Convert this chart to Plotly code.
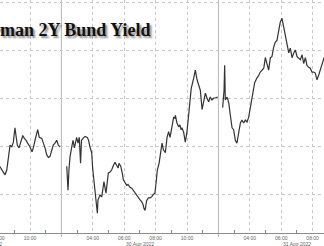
import plotly.graph_objects as go

# Session-hour axis: 0 = 29 Aug 2022 02:00, each trading day shows 02:00-12:00 (10 h)
day29_x = [5.83, 6.09, 6.20, 6.30, 6.41, 6.52, 6.62, 6.73, 6.83, 6.94, 7.04, 7.11, 7.19, 7.30,
           7.41, 7.54, 7.64, 7.75, 7.85, 8.00, 8.13, 8.21, 8.32, 8.43, 8.49, 8.59, 8.75, 8.85,
           8.96, 9.06, 9.17, 9.27, 9.38, 9.48, 9.59, 9.70, 9.80, 9.91]
day29_y = [1.085, 1.078, 1.075, 1.072, 1.070, 1.075, 1.089, 1.101, 1.099, 1.104, 1.119, 1.109,
           1.101, 1.098, 1.103, 1.111, 1.108, 1.106, 1.103, 1.099, 1.094, 1.098, 1.106, 1.114,
           1.117, 1.109, 1.108, 1.103, 1.098, 1.091, 1.088, 1.089, 1.096, 1.101, 1.103, 1.106,
           1.101, 1.099]

day30_x = [10.34, 10.39, 10.42, 10.48, 10.55, 10.66, 10.74, 10.83, 10.93, 10.97, 11.06, 11.14,
           11.22, 11.28, 11.38, 11.50, 11.65, 11.73, 11.82, 11.93, 11.99, 12.08, 12.14, 12.20,
           12.29, 12.33, 12.46, 12.57, 12.65, 12.71, 12.84, 12.90, 12.99, 13.10, 13.20, 13.29,
           13.41, 13.52, 13.61, 13.67, 13.78, 13.90, 13.94, 14.05, 14.16, 14.24, 14.37, 14.48,
           14.56, 14.69, 14.80, 14.90, 15.01, 15.11, 15.20, 15.26, 15.33, 15.43, 15.54, 15.64,
           15.75, 15.83, 15.96, 16.05, 16.11, 16.22, 16.28, 16.39, 16.41, 16.50, 16.62, 16.73,
           16.83, 16.92, 16.98, 17.04, 17.15, 17.22, 17.26, 17.36, 17.47, 17.55, 17.62, 17.68,
           17.79, 17.89, 18.00, 18.11, 18.21, 18.27, 18.43, 18.53, 18.64, 18.75, 18.85, 18.96,
           19.06, 19.17, 19.27, 19.38, 19.48, 19.59, 19.70, 19.80, 19.96]
day30_y = [1.079, 1.065, 1.054, 1.075, 1.089, 1.099, 1.106, 1.098, 1.106, 1.109, 1.103, 1.109,
           1.082, 1.106, 1.108, 1.110, 1.109, 1.106, 1.099, 1.093, 1.077, 1.065, 1.057, 1.044,
           1.030, 1.044, 1.049, 1.047, 1.056, 1.063, 1.051, 1.059, 1.072, 1.073, 1.075, 1.079,
           1.083, 1.080, 1.077, 1.082, 1.079, 1.070, 1.065, 1.062, 1.059, 1.060, 1.057, 1.056,
           1.054, 1.051, 1.048, 1.046, 1.044, 1.042, 1.039, 1.035, 1.033, 1.043, 1.046, 1.046,
           1.047, 1.049, 1.051, 1.065, 1.075, 1.082, 1.088, 1.099, 1.103, 1.096, 1.093, 1.109,
           1.115, 1.109, 1.117, 1.120, 1.130, 1.129, 1.132, 1.124, 1.120, 1.122, 1.117, 1.119,
           1.114, 1.104, 1.115, 1.135, 1.148, 1.160, 1.171, 1.179, 1.169, 1.164, 1.158, 1.138,
           1.148, 1.155, 1.150, 1.146, 1.151, 1.148, 1.150, 1.150, 1.151]

day31_x = [20.27, 20.36, 20.40, 20.44, 20.55, 20.66, 20.76, 20.87, 20.97, 21.08, 21.18, 21.29,
           21.40, 21.50, 21.61, 21.71, 21.82, 21.93, 22.03, 22.14, 22.31, 22.46, 22.55, 22.67,
           22.78, 22.89, 22.99, 23.10, 23.20, 23.31, 23.41, 23.52, 23.62, 23.73, 23.84, 23.94,
           24.05, 24.16, 24.26, 24.37, 24.48, 24.58, 24.69, 24.80, 24.90, 25.01, 25.11, 25.22,
           25.33, 25.43, 25.54, 25.64, 25.75, 25.85, 25.96, 26.07, 26.17, 26.28, 26.39, 26.49,
           26.60, 26.73, 26.98]
day31_y = [1.140, 1.158, 1.184, 1.148, 1.151, 1.145, 1.132, 1.119, 1.117, 1.106, 1.103, 1.114,
           1.124, 1.127, 1.124, 1.127, 1.125, 1.130, 1.140, 1.148, 1.166, 1.171, 1.173, 1.177,
           1.179, 1.181, 1.192, 1.184, 1.179, 1.192, 1.193, 1.203, 1.208, 1.210, 1.221, 1.229,
           1.233, 1.223, 1.214, 1.203, 1.197, 1.202, 1.192, 1.197, 1.200, 1.193, 1.192, 1.190,
           1.195, 1.186, 1.192, 1.184, 1.182, 1.181, 1.177, 1.177, 1.176, 1.169, 1.174, 1.179,
           1.186, 1.192, 1.198]

tick_vals = [6, 8, 12, 14, 16, 18, 22, 24, 26]
tick_text = ["08:00", "10:00", "04:00", "06:00", "08:00", "10:00", "04:00", "06:00", "08:00"]
minor_vals = [7, 9, 11, 13, 15, 17, 19, 21, 23, 25]
day_breaks = [10, 20]
date_labels = ["29 Aug 2022", "30 Aug 2022", "31 Aug 2022"]
date_pos = [5.3, 15, 25]

x_range = [6.089, 26.726]
y_range = [1.0094, 1.2521]

W, H = 324, 246
fig = go.Figure()
for xs, ys in [(day29_x, day29_y), (day30_x, day30_y), (day31_x, day31_y)]:
    fig.add_trace(go.Scatter(x=xs, y=ys, mode="lines",
                             line=dict(color="#333333", width=1.2),
                             hoverinfo="skip", showlegend=False))

for b in day_breaks:
    fig.add_shape(type="line", xref="x", yref="paper", x0=b, x1=b, y0=-0.018, y1=1,
                  line=dict(color="#b4b4b4", width=1), layer="below")

tick_font = dict(family="Liberation Sans, Arial", size=5, color="#666666")

def to_paper(v):
    return (v - x_range[0]) / (x_range[1] - x_range[0])

# tick label whose centre lies just left of the visible range
for v, t in zip(tick_vals, tick_text):
    if v < x_range[0]:
        fig.add_annotation(x=to_paper(v), xref="paper", y=-0.022, yref="paper",
                           text=t, showarrow=False, font=tick_font,
                           xanchor="center", yanchor="middle")

for t, p in zip(date_labels, date_pos):
    fig.add_annotation(x=to_paper(p), xref="paper", y=-0.047, yref="paper",
                       text=t, showarrow=False, font=tick_font,
                       xanchor="center", yanchor="middle")

fig.add_annotation(x=153 / W, xref="paper", y=1 - 30 / 233, yref="paper",
                   text="German 2Y Bund Yield", showarrow=False,
                   xanchor="right", yanchor="middle",
                   font=dict(family="Liberation Serif", size=18, color="#111111",
                             weight="bold", shadow="2px 2px 2px rgba(0,0,0,0.45)"))

fig.update_layout(
    width=W, height=H,
    margin=dict(l=0, r=0, t=0, b=13, pad=0),
    paper_bgcolor="white", plot_bgcolor="white",
    xaxis=dict(range=x_range, tickmode="array", tickvals=tick_vals, ticktext=tick_text,
               showgrid=True, gridcolor="#c8c8c8", griddash="dot", gridwidth=1,
               ticks="", tickfont=tick_font, showline=True, linecolor="#8c8c8c",
               linewidth=1, zeroline=False, ticklabelstandoff=0,
               minor=dict(tickmode="array", tickvals=minor_vals, ticks="inside",
                          ticklen=3, tickcolor="#8c8c8c", tickwidth=1, showgrid=False)),
    yaxis=dict(range=y_range, tick0=1.0, dtick=0.05, showgrid=True,
               gridcolor="#c8c8c8", griddash="dot", gridwidth=1,
               showticklabels=False, ticks="", zeroline=False, showline=False),
)

fig.write_html("out.html")
